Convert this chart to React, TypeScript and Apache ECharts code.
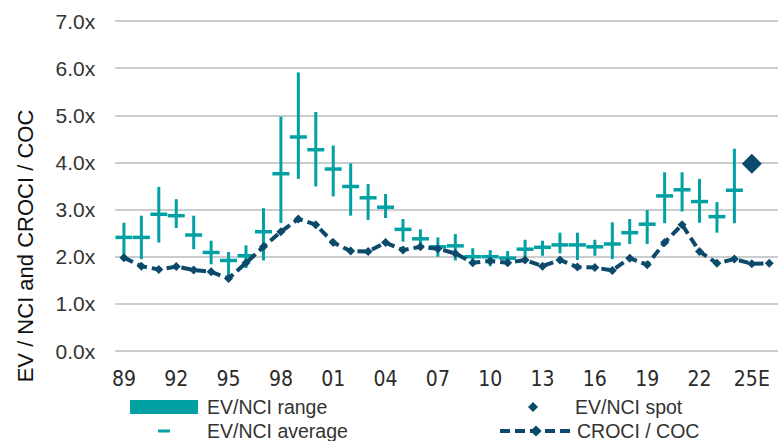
import React, { useEffect, useRef } from 'react';
import * as echarts from 'echarts';

const categories = [
  '89', '90', '91', '92', '93', '94', '95', '96', '97', '98', '99', '00', '01', '02', '03', '04', '05', '06', '07',
  '08', '09', '10', '11', '12', '13', '14', '15', '16', '17', '18', '19', '20', '21', '22', '23', '24', '25E', '26E',
];

const rangeLow: (number | null)[] = [
  1.95, 1.95, 2.30, 2.61, 2.16, 1.84, 1.58, 1.76, 1.92, 2.72, 3.65, 3.49, 3.28, 2.87, 2.78, 2.82, 2.32, 2.14, 2.00,
  1.92, 1.83, 1.80, 1.80, 1.93, 2.02, 2.07, 1.93, 2.02, 1.95, 2.27, 2.27, 2.71, 2.96, 2.72, 2.51, 2.71, null, null,
];

const rangeHigh: (number | null)[] = [
  2.72, 2.87, 3.48, 3.22, 2.87, 2.34, 2.10, 2.24, 3.03, 4.97, 5.91, 5.07, 4.36, 3.98, 3.54, 3.33, 2.80, 2.58, 2.41,
  2.48, 2.18, 2.14, 2.12, 2.36, 2.34, 2.51, 2.51, 2.36, 2.73, 2.80, 2.99, 3.79, 3.79, 3.65, 3.16, 4.29, null, null,
];

const average: (number | null)[] = [
  2.41, 2.41, 2.90, 2.87, 2.46, 2.09, 1.92, 2.02, 2.53, 3.76, 4.54, 4.27, 3.86, 3.49, 3.25, 3.05, 2.58, 2.38, 2.21,
  2.23, 2.00, 2.00, 1.97, 2.16, 2.20, 2.25, 2.25, 2.21, 2.27, 2.51, 2.69, 3.29, 3.42, 3.17, 2.85, 3.41, null, null,
];

const crociCoc: number[] = [
  1.98, 1.80, 1.73, 1.79, 1.72, 1.68, 1.54, 1.87, 2.21, 2.53, 2.80, 2.68, 2.30, 2.12, 2.11, 2.30, 2.14, 2.21, 2.17,
  2.07, 1.87, 1.91, 1.87, 1.93, 1.80, 1.93, 1.78, 1.77, 1.71, 1.97, 1.83, 2.30, 2.68, 2.11, 1.86, 1.95, 1.85, 1.86,
];

const spot: (number | null)[] = categories.map((c) => (c === '25E' ? 3.97 : null));

const yTicks = [0, 1, 2, 3, 4, 5, 6, 7];

const TEAL = '#00a0a3';
const NAVY = '#0b4a6b';
const GRID = '#b9bdbf';
const TEXT = '#2a2a2a';
const FONT = '"Liberation Sans", Arial, sans-serif';

const legendItem = (name: string, left: number, top: number, icon?: string) => ({
  left,
  top,
  height: 40,
  orient: 'horizontal',
  itemWidth: 72,
  itemHeight: 14,
  selectedMode: false,
  textStyle: { fontSize: 19.5, fontFamily: FONT, color: '#333' },
  lineStyle: { width: 4 },
  data: [icon ? { name, icon } : { name }],
});

export default function App() {
  const ref = useRef<HTMLDivElement>(null);

  useEffect(() => {
    document.body.style.margin = '0';
    const chart = echarts.init(ref.current!, null, { renderer: 'svg' });

    const rangeData: number[][] = [];
    const avgData: number[][] = [];
    const spotData: number[][] = [];
    categories.forEach((_, i) => {
      const lo = rangeLow[i];
      const hi = rangeHigh[i];
      if (lo != null && hi != null) rangeData.push([i, lo, hi]);
      const a = average[i];
      if (a != null) avgData.push([i, a]);
      const s = spot[i];
      if (s != null) spotData.push([i, s]);
    });

    chart.setOption({
      animation: false,
      grid: { left: 115.2, right: -8.7, top: 21, bottom: 90, containLabel: false },
      xAxis: {
        type: 'category',
        data: categories,
        boundaryGap: true,
        axisLine: { show: false },
        axisTick: { show: false },
        axisLabel: {
          interval: 2,
          margin: 17,
          fontSize: 21,
          fontFamily: '"Liberation Sans Narrow", "DejaVu Sans Condensed", sans-serif',
          color: TEXT,
        },
        splitLine: { show: false },
      },
      yAxis: {
        type: 'value',
        min: yTicks[0],
        max: yTicks[yTicks.length - 1],
        interval: 1,
        axisLine: { show: false },
        axisTick: { show: false },
        axisLabel: {
          margin: 20,
          fontSize: 21,
          fontFamily: FONT,
          color: '#333',
          formatter: (v: number) => v.toFixed(1) + 'x',
        },
        splitLine: { show: true, lineStyle: { color: GRID, width: 1.6 } },
      },
      legend: [
        legendItem('EV/NCI range', 125, 392, 'path://M72,14M0,0h68v14h-68z'),
        legendItem('EV/NCI average', 125, 416, 'path://M0,0M72,14M28,5.5h12v3h-12z'),
        legendItem('EV/NCI spot', 493, 392, 'path://M0,0M72,14M35,2L40,7L35,12L30,7Z'),
        legendItem('CROCI / COC', 493, 416),
      ],
      graphic: [
        {
          type: 'text',
          x: 25,
          y: 246,
          rotation: Math.PI / 2,
          style: {
            text: 'EV / NCI and CROCI / COC',
            fontSize: 22,
            fontFamily: FONT,
            fill: '#111',
            align: 'center',
            verticalAlign: 'middle',
          },
        },
      ],
      series: [
        {
          name: 'EV/NCI range',
          type: 'custom',
          itemStyle: { color: TEAL },
          encode: { x: 0, y: [1, 2] },
          data: rangeData,
          renderItem: (params: any, api: any) => {
            const x = api.value(0);
            const p1 = api.coord([x, api.value(1)]);
            const p2 = api.coord([x, api.value(2)]);
            return {
              type: 'line',
              shape: { x1: p1[0], y1: p1[1], x2: p2[0], y2: p2[1] },
              style: { stroke: TEAL, lineWidth: 3 },
            };
          },
          z: 2,
        },
        {
          name: 'EV/NCI average',
          type: 'scatter',
          symbol: 'rect',
          symbolSize: [17, 3.5],
          itemStyle: { color: TEAL, opacity: 1 },
          data: avgData,
          z: 3,
        },
        {
          name: 'CROCI / COC',
          type: 'line',
          data: crociCoc,
          symbol: 'diamond',
          symbolSize: 9,
          showSymbol: true,
          showAllSymbol: true,
          itemStyle: { color: NAVY },
          lineStyle: { color: NAVY, width: 4, type: [10, 5] },
          z: 4,
        },
        {
          name: 'EV/NCI spot',
          type: 'scatter',
          symbol: 'diamond',
          symbolSize: 20,
          itemStyle: { color: NAVY, opacity: 1 },
          data: spotData,
          z: 5,
        },
      ],
    });

    return () => chart.dispose();
  }, []);

  return <div ref={ref} style={{ position: 'absolute', left: 0, top: 0, width: 778, height: 441 }} />;
}
